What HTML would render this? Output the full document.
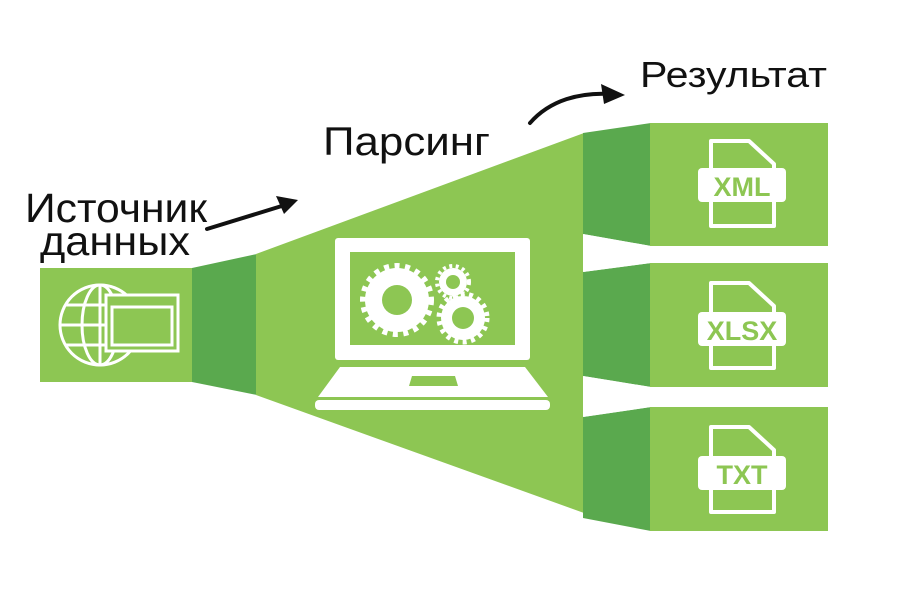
<!DOCTYPE html>
<html><head><meta charset="utf-8"><style>
html,body{margin:0;padding:0;background:#fff;width:900px;height:600px;overflow:hidden}
</style></head><body>
<svg width="900" height="600" viewBox="0 0 900 600" xmlns="http://www.w3.org/2000/svg">
<!-- left box -->
<rect x="40" y="268" width="153" height="114" fill="#8dc653"/>
<polygon points="192,268 257,254 257,395 192,382" fill="#5aa94e"/>
<!-- big trapezoid -->
<polygon points="256,254 584,133 584,513 256,395" fill="#8dc653"/>
<!-- right dark strips -->
<polygon points="583,133 651,123 651,246 583,234" fill="#5aa94e"/>
<polygon points="583,272 651,263 651,387 583,376" fill="#5aa94e"/>
<polygon points="583,417 651,407 651,531 583,518" fill="#5aa94e"/>
<polygon points="583,234 651,246 651,263 583,272" fill="#fff"/>
<polygon points="583,376 651,387 651,407 583,417" fill="#fff"/>
<!-- right boxes -->
<rect x="650" y="123" width="178" height="123" fill="#8dc653"/>
<rect x="650" y="263" width="178" height="124" fill="#8dc653"/>
<rect x="650" y="407" width="178" height="124" fill="#8dc653"/>

<!-- globe + window icon -->
<g stroke="#fff" stroke-width="3" fill="none">
<circle cx="100" cy="325" r="40"/>
<ellipse cx="100" cy="325" rx="18" ry="40"/>
<line x1="100" y1="285" x2="100" y2="365"/>
<line x1="60" y1="325" x2="140" y2="325"/>
<line x1="66" y1="305" x2="134" y2="305"/>
<line x1="66" y1="345" x2="134" y2="345"/>
</g>
<rect x="106" y="295" width="72" height="56" fill="#8dc653" stroke="#fff" stroke-width="3"/>
<rect x="112" y="307" width="60" height="38" fill="none" stroke="#fff" stroke-width="3"/>

<!-- laptop -->
<rect x="335" y="238" width="195" height="122" rx="3" fill="#fff"/>
<rect x="350" y="252" width="165" height="93" fill="#8dc653"/>
<polygon points="340,367 525,367 548,397 318,397" fill="#fff"/>
<polygon points="412,376 455,376 458,386 409,386" fill="#8dc653"/>
<rect x="315" y="400" width="235" height="10" rx="4" fill="#fff"/>
<g fill="#fff">
<circle cx="397" cy="300" r="32"/>
<g stroke="#fff" stroke-width="6" stroke-dasharray="5 5.5" fill="none"><circle cx="397" cy="300" r="34"/></g>
<circle cx="463" cy="318" r="22"/>
<g stroke="#fff" stroke-width="5" stroke-dasharray="4 4.5" fill="none"><circle cx="463" cy="318" r="24"/></g>
<circle cx="453" cy="282" r="14"/>
<g stroke="#fff" stroke-width="4" stroke-dasharray="3 3.5" fill="none"><circle cx="453" cy="282" r="16"/></g>
</g>
<circle cx="397" cy="300" r="15" fill="#8dc653"/>
<circle cx="463" cy="318" r="11" fill="#8dc653"/>
<circle cx="453" cy="282" r="7" fill="#8dc653"/>

<!-- file icons -->
<g font-family="Liberation Sans, sans-serif" font-weight="bold" font-size="27" fill="#8dc653" text-anchor="middle">
<path d="M711,141 H749 L774,164 V226 H711 Z" fill="none" stroke="#fff" stroke-width="4" stroke-linejoin="round"/>
<rect x="698" y="168" width="88" height="34" rx="4" fill="#fff"/>
<text x="742" y="196">XML</text>
<path d="M711,283 H749 L774,306 V368 H711 Z" fill="none" stroke="#fff" stroke-width="4" stroke-linejoin="round"/>
<rect x="698" y="312" width="88" height="34" rx="4" fill="#fff"/>
<text x="742" y="340">XLSX</text>
<path d="M711,427 H749 L774,450 V512 H711 Z" fill="none" stroke="#fff" stroke-width="4" stroke-linejoin="round"/>
<rect x="698" y="456" width="88" height="34" rx="4" fill="#fff"/>
<text x="742" y="484">TXT</text>
</g>

<!-- labels -->
<g font-family="Liberation Sans, sans-serif" fill="#111">
<text x="25" y="222" font-size="41" textLength="182" lengthAdjust="spacingAndGlyphs">Источник</text>
<text x="40" y="255" font-size="41" textLength="150" lengthAdjust="spacingAndGlyphs">данных</text>
<text x="323" y="155" font-size="40" textLength="167" lengthAdjust="spacingAndGlyphs">Парсинг</text>
<text x="640" y="87" font-size="36" textLength="187" lengthAdjust="spacingAndGlyphs">Результат</text>
</g>
<g stroke="#111" stroke-width="4" fill="none" stroke-linecap="round">
<path d="M207,229 L285,205"/>
<path d="M530,123 C550,100 580,92 612,94"/>
</g>
<polygon points="298,200 276,196 284,214" fill="#111"/>
<polygon points="625,95 601,84 604,104" fill="#111"/>
</svg>
</body></html>
